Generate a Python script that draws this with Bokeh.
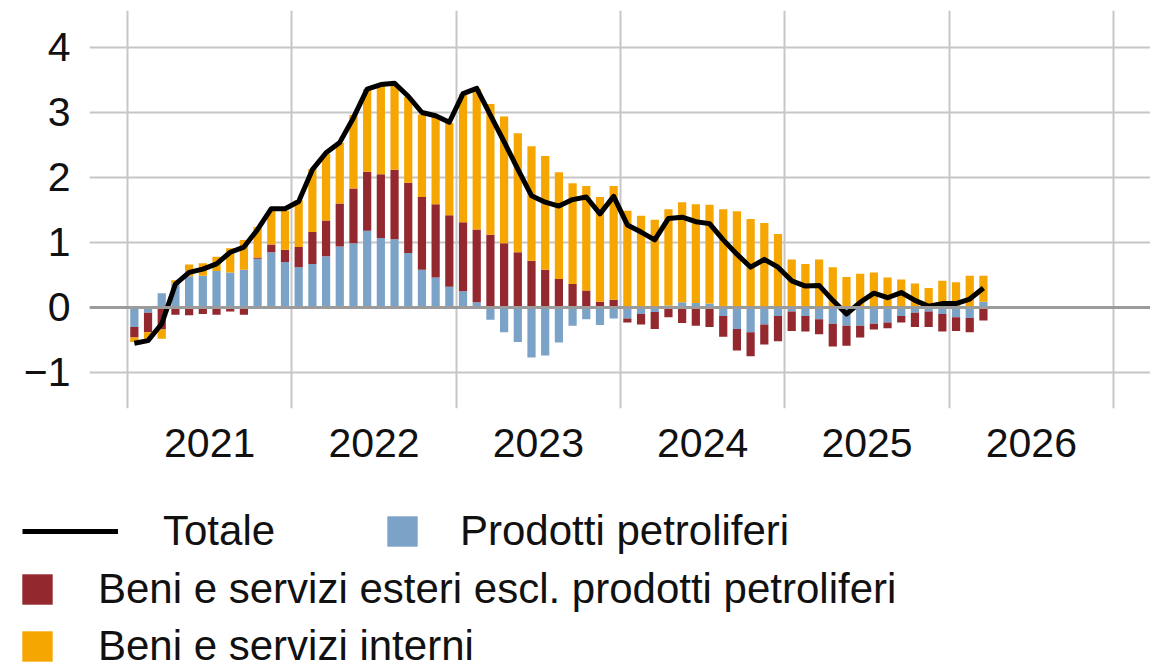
import numpy as np
from bokeh.plotting import figure
from bokeh.layouts import column
from bokeh.models import FixedTicker, Legend, LegendItem, Range1d, Span
from bokeh.embed import file_html
from bokeh.resources import INLINE

# ---- data (monthly contributions, Jan 2021 .. Mar 2026) ----
years = ["2021", "2022", "2023", "2024", "2025", "2026"]

petroliferi = [-0.30, -0.08, 0.22, 0.37, 0.48, 0.49, 0.56, 0.54, 0.58, 0.75, 0.85, 0.70,
               0.62, 0.67, 0.79, 0.94, 0.99, 1.18, 1.07, 1.05, 0.84, 0.58, 0.46, 0.32,
               0.25, 0.08, -0.19, -0.38, -0.53, -0.77, -0.74, -0.54, -0.28, -0.18, -0.27, -0.17,
               -0.17, -0.10, -0.07, 0.03, 0.08, 0.07, 0.06, -0.13, -0.33, -0.38, -0.26, -0.13,
               -0.06, -0.13, -0.18, -0.25, -0.28, -0.28, -0.25, -0.23, -0.13, -0.08, -0.06, -0.10,
               -0.15, -0.16, 0.09]

esteri = [-0.16, -0.30, -0.34, -0.11, -0.12, -0.10, -0.11, -0.06, -0.11, 0.02, 0.12, 0.19,
          0.31, 0.49, 0.55, 0.66, 0.84, 0.91, 0.98, 1.07, 1.08, 1.12, 1.13, 1.10,
          1.06, 1.12, 1.12, 0.99, 0.85, 0.72, 0.58, 0.44, 0.36, 0.26, 0.09, 0.12,
          -0.06, -0.16, -0.26, -0.15, -0.24, -0.28, -0.30, -0.32, -0.33, -0.37, -0.31, -0.39,
          -0.30, -0.24, -0.23, -0.35, -0.31, -0.18, -0.09, -0.09, -0.10, -0.22, -0.24, -0.27,
          -0.21, -0.22, -0.20]

interni = [-0.07, -0.10, -0.14, 0.05, 0.18, 0.19, 0.22, 0.37, 0.46, 0.47, 0.52, 0.60,
           0.72, 0.97, 1.02, 0.94, 1.13, 1.27, 1.37, 1.32, 1.32, 1.27, 1.34, 1.42,
           1.98, 2.16, 2.01, 1.95, 1.83, 1.76, 1.75, 1.64, 1.55, 1.61, 1.61, 1.75,
           1.49, 1.41, 1.35, 1.48, 1.54, 1.52, 1.52, 1.51, 1.48, 1.36, 1.30, 1.13,
           0.74, 0.67, 0.74, 0.62, 0.47, 0.52, 0.54, 0.46, 0.43, 0.37, 0.30, 0.41,
           0.39, 0.49, 0.40]

totale = [-0.55, -0.51, -0.25, 0.36, 0.54, 0.59, 0.67, 0.85, 0.93, 1.20, 1.52, 1.52,
          1.63, 2.12, 2.38, 2.54, 2.92, 3.36, 3.43, 3.45, 3.25, 3.00, 2.95, 2.85,
          3.29, 3.37, 2.96, 2.55, 2.13, 1.72, 1.62, 1.56, 1.66, 1.70, 1.44, 1.71,
          1.27, 1.16, 1.04, 1.37, 1.39, 1.32, 1.29, 1.04, 0.82, 0.62, 0.74, 0.62,
          0.41, 0.33, 0.34, 0.11, -0.10, 0.08, 0.22, 0.15, 0.23, 0.11, 0.02, 0.06,
          0.06, 0.13, 0.30]

labels = ["Prodotti petroliferi",
          "Beni e servizi esteri escl. prodotti petroliferi",
          "Beni e servizi interni"]
colors = ["#7ba3c7", "#93282f", "#f6a600"]

FONT = "Liberation Sans"
FS = "41px"
LFS = "42px"
TXT = "#111111"

n = len(totale)
x = np.arange(n) + 0.5  # month centres, 0 = start of 2021

W = 1150
p = figure(width=W, height=480, output_backend="svg", toolbar_location=None,
           x_range=Range1d(-2.775, 74.70), y_range=Range1d(-1.554, 4.569),
           min_border_left=89, min_border_right=0, min_border_top=10, min_border_bottom=72)
p.outline_line_color = None
p.frame_align = False

# stacked bars (positives up, negatives down)
pos_base = np.zeros(n)
neg_base = np.zeros(n)
stacks = []
for vals, col in zip([petroliferi, esteri, interni], colors):
    v = np.array(vals, dtype=float)
    bottom = np.where(v >= 0, pos_base, neg_base)
    top = bottom + v
    pos_base = np.where(v >= 0, top, pos_base)
    neg_base = np.where(v < 0, top, neg_base)
    stacks.append((bottom, top))
    p.vbar(x=x, bottom=bottom, top=top, width=0.6, fill_color=col, line_color=None)

p.add_layout(Span(location=0, dimension="width", line_color="#9b9b9b", line_width=3))

p.line(x, totale, line_color="black", line_width=5, line_join="round")

# axes
year_ticks = [12 * i + 6 for i in range(len(years))]
p.xaxis.ticker = FixedTicker(ticks=year_ticks)
p.xaxis.major_label_overrides = {t: y for t, y in zip(year_ticks, years)}
p.xaxis.axis_line_color = None
p.xaxis.major_tick_line_color = None
p.xaxis.minor_tick_line_color = None
p.xaxis.major_tick_out = 0
p.xaxis.major_tick_in = 0
p.xaxis.major_label_standoff = 20
p.xaxis.major_label_text_font = FONT
p.xaxis.major_label_text_font_size = FS
p.xaxis.major_label_text_color = TXT

yt = [-1, 0, 1, 2, 3, 4]
p.yaxis.ticker = FixedTicker(ticks=yt)
p.yaxis.major_label_overrides = {-1: "\u22121"}
p.yaxis.axis_line_color = None
p.yaxis.major_tick_line_color = None
p.yaxis.minor_tick_line_color = None
p.yaxis.major_tick_out = 0
p.yaxis.major_tick_in = 0
p.yaxis.major_label_standoff = 19
p.yaxis.major_label_text_font = FONT
p.yaxis.major_label_text_font_size = FS
p.yaxis.major_label_text_color = TXT

p.xgrid.ticker = FixedTicker(ticks=[12 * i for i in range(len(years) + 1)])
p.ygrid.ticker = FixedTicker(ticks=yt)
p.xgrid.grid_line_color = "#c6c6c6"
p.ygrid.grid_line_color = "#c6c6c6"
p.xgrid.grid_line_width = 2
p.ygrid.grid_line_width = 2

# ---- legend figure (below); its glyph copies sit outside its visible range ----
lg = figure(width=W, height=188, output_backend="svg", toolbar_location=None,
            x_range=Range1d(-3, -2), y_range=Range1d(-3, -2),
            min_border_left=0, min_border_right=0, min_border_top=0, min_border_bottom=0,
            x_axis_type=None, y_axis_type=None)
lg.outline_line_color = None
lg.frame_align = False
lg.xgrid.visible = False
lg.ygrid.visible = False

r_line = lg.line(x, totale, line_color="black", line_width=5)
r_bars = [lg.vbar(x=x, bottom=b, top=t, width=0.6, fill_color=c, line_color=None)
          for (b, t), c in zip(stacks, colors)]


def add_leg(label, rend, loc, gw, gh, standoff):
    leg = Legend(items=[LegendItem(label=label, renderers=[rend])], location=loc,
                 glyph_width=gw, glyph_height=gh, label_standoff=standoff,
                 padding=0, margin=0, spacing=0, border_line_color=None,
                 background_fill_alpha=0, label_text_font=FONT,
                 label_text_font_size=LFS, label_text_color=TXT, label_height=gh)
    lg.add_layout(leg, "center")


add_leg("Totale", r_line, (22, 113), 96, 38, 45)
add_leg(labels[0], r_bars[0], (383, 113), 38, 38, 39)
add_leg(labels[1], r_bars[1], (18, 55), 38, 38, 42)
add_leg(labels[2], r_bars[2], (18, -2), 38, 38, 42)

layout = column(p, lg, spacing=0)
open("out.html", "w").write(file_html(layout, INLINE))
